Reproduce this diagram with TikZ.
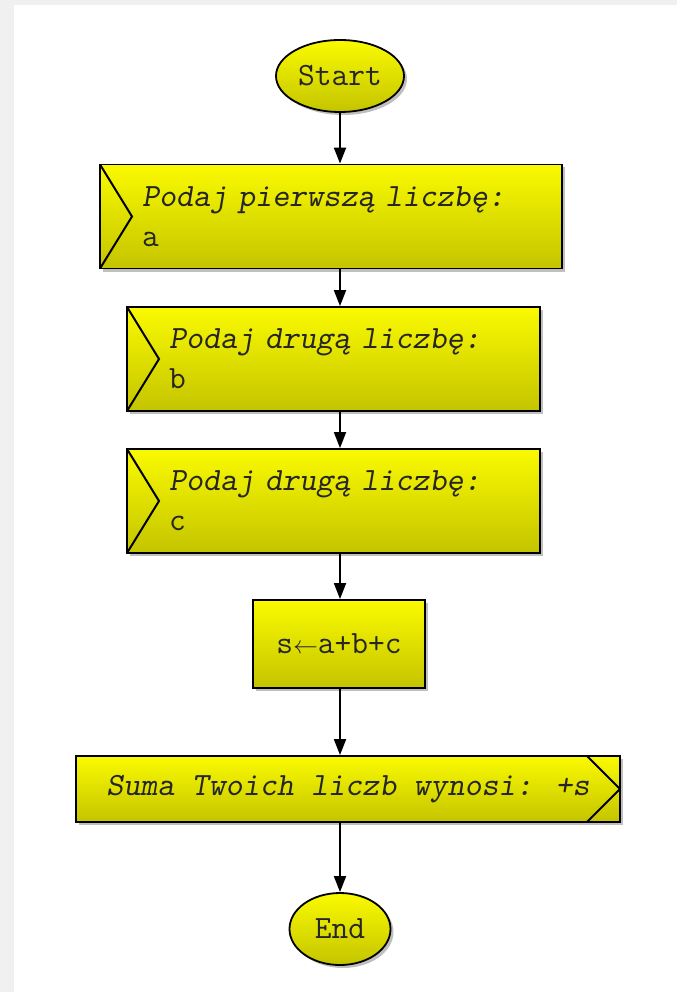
\documentclass[tikz,border=0pt]{standalone}
\usepackage{fontspec}
\usetikzlibrary{shapes.geometric,arrows.meta,shadows}

\definecolor{boxtop}{RGB}{250,250,0}
\definecolor{boxbottom}{RGB}{196,196,0}
\definecolor{pagegrey}{RGB}{240,240,240}

\begin{document}
\begin{tikzpicture}[
  x = 1pt, y = -1pt,
  block/.style = {draw, line width = 1.8pt, top color = boxtop, bottom color = boxbottom,
                  text = black!85, font = \fontsize{32.5}{40}\selectfont\ttfamily,
                  drop shadow = {shadow xshift = 3pt, shadow yshift = -3pt, opacity = 0.25, fill = black}},
  terminal/.style = {block, ellipse, inner sep = 0pt},
  inbox/.style = {block, rectangle, minimum height = 104pt, inner xsep = 42pt, inner ysep = 0pt,
                  text width = #1, align = left,
                  path picture = {\draw[line width = 2pt] (path picture bounding box.north west)
                    -- ([xshift = 32pt]path picture bounding box.west)
                    -- (path picture bounding box.south west);}},
  outbox/.style = {block, rectangle, minimum width = 544pt, minimum height = 66pt,
                  path picture = {\draw[line width = 2pt] ([xshift = -33pt]path picture bounding box.north east)
                    -- (path picture bounding box.east)
                    -- ([xshift = -33pt]path picture bounding box.south east);}},
  procbox/.style = {block, rectangle, minimum width = 172pt, minimum height = 88pt},
  arrow/.style = {-{Triangle[length = 16pt, width = 12pt]}, line width = 1.8pt},
  ]
  % page
  \fill[pagegrey] (0,0) rectangle (677,992);
  \fill[white] (14,5) rectangle (677,992);
  \useasboundingbox (0,0) rectangle (677,992);

  \node[terminal, minimum width = 128pt, minimum height = 72pt] (start) at (340,76) {Start};
  \node[inbox = 378pt] (in1) at (331,216.5) {{\slshape Podaj pierwszą liczbę:}\\a};
  \node[inbox = 329pt] (in2) at (333.5,359) {{\slshape Podaj drugą liczbę:}\\b};
  \node[inbox = 329pt] (in3) at (333.5,501) {{\slshape Podaj drugą liczbę:}\\c};
  \node[procbox] (sum) at (339,644) {s$\leftarrow$a+b+c};
  \node[outbox] (out) at (348,789) {\slshape Suma Twoich liczb wynosi: +s\hspace{14pt}};
  \node[terminal, minimum width = 101pt, minimum height = 72pt] (end) at (340,929) {End};

  \draw[arrow] (start) -- (start |- in1.north);
  \draw[arrow] (start |- in1.south) -- (start |- in2.north);
  \draw[arrow] (start |- in2.south) -- (start |- in3.north);
  \draw[arrow] (start |- in3.south) -- (start |- sum.north);
  \draw[arrow] (start |- sum.south) -- (start |- out.north);
  \draw[arrow] (start |- out.south) -- (start |- end.north);
\end{tikzpicture}
\end{document}
